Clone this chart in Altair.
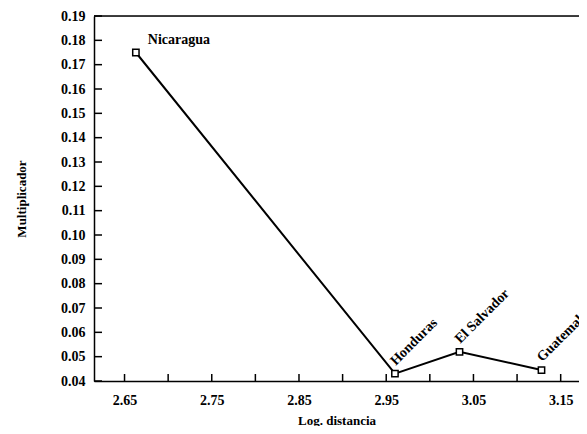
import altair as alt
import pandas as pd

countries = ["Nicaragua", "Honduras", "El Salvador", "Guatemala"]
log_dist = [2.663, 2.960, 3.034, 3.128]
multiplier = [0.175, 0.043, 0.052, 0.0445]

x_ticks = [2.65, 2.70, 2.75, 2.80, 2.85, 2.90, 2.95, 3.00, 3.05, 3.10, 3.15]
y_ticks = [0.04, 0.05, 0.06, 0.07, 0.08, 0.09, 0.10, 0.11, 0.12, 0.13,
           0.14, 0.15, 0.16, 0.17, 0.18, 0.19]

df = pd.DataFrame({"pais": countries, "x": log_dist, "y": multiplier,
                   "orden": list(range(len(countries)))})

FONT = "Times New Roman, Liberation Serif, DejaVu Serif, serif"

xs = alt.Scale(domain=[2.615, 3.171], nice=False, zero=False)
ys = alt.Scale(domain=[0.04, 0.19], nice=False, zero=False)

xaxis = alt.Axis(values=x_ticks, format=".2f", grid=False, labelOverlap=False,
                 labelExpr="(round(datum.value*100) % 10 == 5) ? datum.label : ''",
                 ticks=False, labelPadding=12,
                 domainColor="black", domainWidth=1.5,
                 labelFont=FONT, labelFontSize=14, labelFontWeight="bold", labelColor="black",
                 title="Log. distancia", titleFont=FONT, titleFontSize=13,
                 titleFontWeight="bold", titleColor="black", titlePadding=7)
yaxis = alt.Axis(values=y_ticks, format=".2f", grid=False, labelOverlap=False,
                 ticks=False, labelPadding=9,
                 domainColor="black", domainWidth=1.5,
                 labelFont=FONT, labelFontSize=14, labelFontWeight="bold", labelColor="black",
                 title="Multiplicador", titleFont=FONT, titleFontSize=13,
                 titleFontWeight="bold", titleColor="black", titlePadding=32)

base = alt.Chart(df)

line = base.mark_line(color="black", strokeWidth=2).encode(
    x=alt.X("x:Q", scale=xs, axis=xaxis),
    y=alt.Y("y:Q", scale=ys, axis=yaxis),
    order="orden:Q",
)
pts = base.mark_point(shape="square", size=40, filled=True, fill="white",
                      stroke="black", strokeWidth=1.5, opacity=1).encode(
    x=alt.X("x:Q", scale=xs, axis=xaxis), y=alt.Y("y:Q", scale=ys, axis=yaxis))

lab_flat = base.transform_filter("datum.pais == 'Nicaragua'").mark_text(
    font=FONT, fontSize=14, fontWeight="bold", color="black",
    align="left", baseline="middle", dx=12, dy=-13).encode(
    x=alt.X("x:Q", scale=xs, axis=xaxis), y=alt.Y("y:Q", scale=ys, axis=yaxis),
    text="pais:N")

lab_rot = base.transform_filter("datum.pais != 'Nicaragua'").mark_text(
    font=FONT, fontSize=14, fontWeight="bold", color="black",
    align="left", baseline="alphabetic", angle=315, dx=6, dy=-5).encode(
    x=alt.X("x:Q", scale=xs, axis=xaxis), y=alt.Y("y:Q", scale=ys, axis=yaxis),
    text="pais:N")

top = alt.Chart(pd.DataFrame({"y": [0.19]})).mark_rule(
    color="black", strokeWidth=1.5).encode(y=alt.Y("y:Q", scale=ys, axis=yaxis))

yt = alt.Chart(pd.DataFrame({"y": y_ticks})).mark_tick(
    color="black", thickness=1.5, size=8, opacity=1, orient="horizontal").encode(
    y=alt.Y("y:Q", scale=ys, axis=yaxis), x=alt.value(4))

xt = alt.Chart(pd.DataFrame({"x": x_ticks})).mark_tick(
    color="black", thickness=1.5, size=7, opacity=1, orient="vertical").encode(
    x=alt.X("x:Q", scale=xs, axis=xaxis), y=alt.value(361.5))

chart = alt.layer(line, pts, lab_flat, lab_rot, top, yt, xt).properties(
    width=485, height=365,
    autosize=alt.AutoSizeParams(type="none"),
    padding={"left": 86, "top": 8, "right": 0, "bottom": 45},
).configure_view(stroke=None).configure(background="white")

chart.save("out.html", embed_options={"renderer": "svg", "actions": False})
